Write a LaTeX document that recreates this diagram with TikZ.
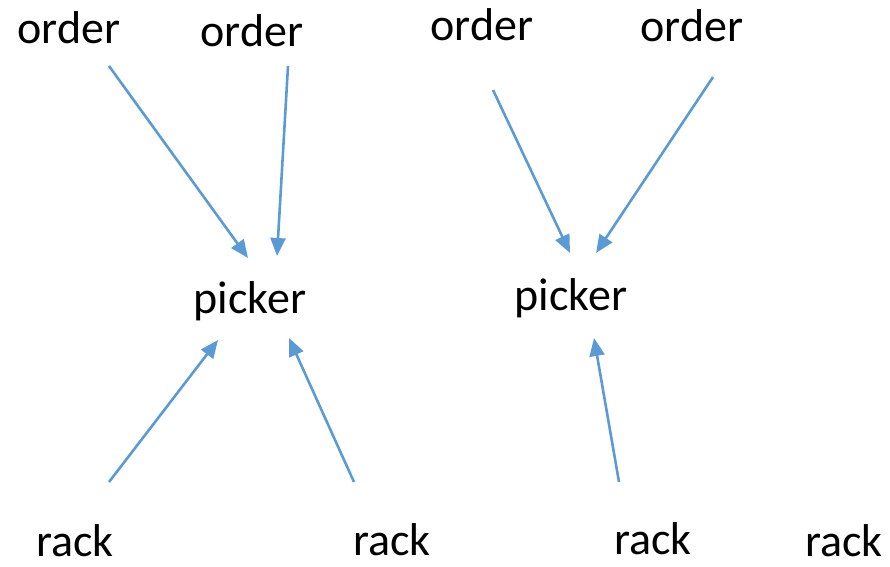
\documentclass[tikz,border=0pt]{standalone}
\usepackage{fontspec}
\setmainfont{Carlito}
\usetikzlibrary{arrows.meta}
\definecolor{arrowblue}{RGB}{91,155,213}
\begin{document}
\begin{tikzpicture}[x=1pt,y=-1pt,
  lbl/.style={anchor=base,inner sep=0pt,font=\fontsize{46}{52}\selectfont},
  link/.style={draw=arrowblue,line width=2.6pt,-{Triangle[length=18pt,width=15pt]}}]
\useasboundingbox (0,0) rectangle (890,566);
\node[lbl] (o1) at (69,43) {order};
\node[lbl] (o2) at (252,46) {order};
\node[lbl] (o3) at (482,40) {order};
\node[lbl] (o4) at (692,41) {order};
\node[lbl] (p1) at (250,313) {picker};
\node[lbl] (p2) at (571,310) {picker};
\node[lbl] (r1) at (75,556) {rack};
\node[lbl] (r2) at (392,555) {rack};
\node[lbl] (r3) at (653,554) {rack};
\node[lbl] (r4) at (844,556) {rack};
\coordinate (o1s) at (109,66);
\coordinate (o1e) at (248,258);
\coordinate (o2s) at (288,66);
\coordinate (o2e) at (277,256);
\coordinate (o3s) at (493,90);
\coordinate (o3e) at (570,253);
\coordinate (o4s) at (713,77);
\coordinate (o4e) at (596,253);
\coordinate (r1s) at (109,482);
\coordinate (r1e) at (218,340);
\coordinate (r2s) at (354,482);
\coordinate (r2e) at (289,338);
\coordinate (r3s) at (619,482);
\coordinate (r3e) at (594,338);
\draw[link] (o1s) -- (o1e);
\draw[link] (o2s) -- (o2e);
\draw[link] (o3s) -- (o3e);
\draw[link] (o4s) -- (o4e);
\draw[link] (r1s) -- (r1e);
\draw[link] (r2s) -- (r2e);
\draw[link] (r3s) -- (r3e);
\end{tikzpicture}
\end{document}
